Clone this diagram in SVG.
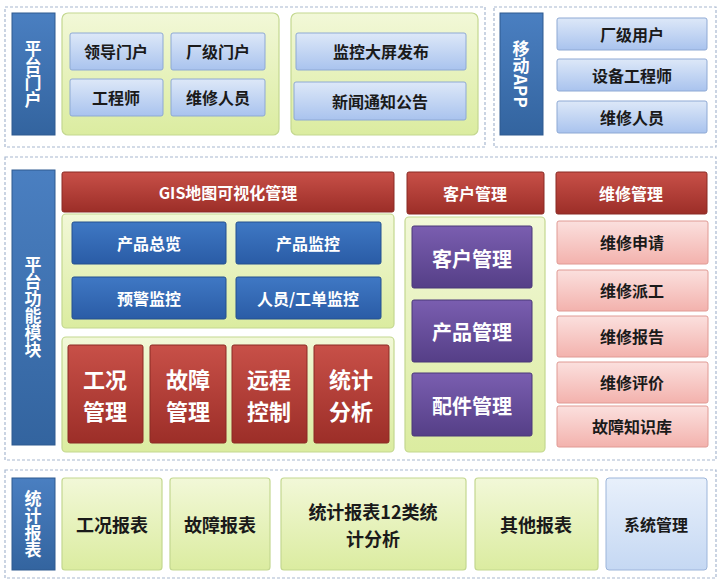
<svg xmlns="http://www.w3.org/2000/svg" width="723" height="584" viewBox="0 0 723 584">
<defs>
<linearGradient id="gb" x1="0" y1="0" x2="0" y2="1"><stop offset="0" stop-color="#dde8f8"/><stop offset="1" stop-color="#a9c3ee"/></linearGradient>
<linearGradient id="gg" x1="0" y1="0" x2="0" y2="1"><stop offset="0" stop-color="#f2f8d8"/><stop offset="1" stop-color="#dbeca0"/></linearGradient>
<linearGradient id="gbar" x1="0" y1="0" x2="0" y2="1"><stop offset="0" stop-color="#4a7fc1"/><stop offset="1" stop-color="#33649f"/></linearGradient>
<linearGradient id="gr" x1="0" y1="0" x2="0" y2="1"><stop offset="0" stop-color="#c85048"/><stop offset="1" stop-color="#9c2e28"/></linearGradient>
<linearGradient id="gp" x1="0" y1="0" x2="0" y2="1"><stop offset="0" stop-color="#7a5eb0"/><stop offset="1" stop-color="#553f87"/></linearGradient>
<linearGradient id="gk" x1="0" y1="0" x2="0" y2="1"><stop offset="0" stop-color="#fbe0de"/><stop offset="1" stop-color="#f3b2ad"/></linearGradient>
<linearGradient id="gdb" x1="0" y1="0" x2="0" y2="1"><stop offset="0" stop-color="#3f78c4"/><stop offset="1" stop-color="#2a5ca6"/></linearGradient>
<linearGradient id="gl" x1="0" y1="0" x2="0" y2="1"><stop offset="0" stop-color="#e8f0fb"/><stop offset="1" stop-color="#c5d8f3"/></linearGradient>
</defs>
<style>
.dash{fill:#fff;stroke:#a8b8d0;stroke-width:1.2;stroke-dasharray:3 2}
.bar{fill:url(#gbar);stroke:#2f5a90}
.grn{fill:url(#gg);stroke:#c4d890;stroke-width:1.2}
.bb{fill:url(#gb);stroke:#8ea9d4}
.red{fill:url(#gr);stroke:#8a2a24}
.pur{fill:url(#gp);stroke:#4a3878}
.pk{fill:url(#gk);stroke:#e09a94}
.db{fill:url(#gdb);stroke:#24508f}
.lb{fill:url(#gl);stroke:#9cb5da}
text{font-family:"Noto Sans CJK SC","Liberation Sans",sans-serif;font-weight:bold;text-anchor:middle;dominant-baseline:central}
.d{fill:#1a1a1a;font-size:16px}
.dl{fill:#1a1a1a;font-size:18px}
.w{fill:#fff;font-size:16px}
.wl{fill:#fff;font-size:20px}
.wx{fill:#fff;font-size:22px}
.bt{fill:#fff;font-size:17px}
</style>
<g id="top-left">
<rect class="dash" x="5" y="7" width="480" height="140"/>
<rect class="bar" x="12" y="13" width="43" height="122"/>
<text class="bt" x="33" y="74" writing-mode="tb">平台门户</text>
<rect class="grn" x="62" y="13" width="217" height="122" rx="6"/>
<rect class="bb" x="70" y="33" width="93" height="37" rx="2"/><text class="d" x="116" y="51">领导门户</text>
<rect class="bb" x="171" y="33" width="94" height="37" rx="2"/><text class="d" x="218" y="51">厂级门户</text>
<rect class="bb" x="70" y="79" width="93" height="37" rx="2"/><text class="d" x="116" y="97">工程师</text>
<rect class="bb" x="171" y="79" width="94" height="37" rx="2"/><text class="d" x="218" y="97">维修人员</text>
<rect class="grn" x="291" y="13" width="187" height="122" rx="6"/>
<rect class="bb" x="296" y="33" width="170" height="37" rx="2"/><text class="d" x="381" y="51">监控大屏发布</text>
<rect class="bb" x="294" y="82" width="172" height="38" rx="2"/><text class="d" x="380" y="101">新闻通知公告</text>
</g>
<g id="top-right">
<rect class="dash" x="494" y="7" width="222" height="140"/>
<rect class="bar" x="500" y="13" width="43" height="122"/>
<text class="bt" x="521" y="74" writing-mode="tb">移动APP</text>
<rect class="bb" x="557" y="18" width="150" height="32" rx="2"/><text class="d" x="632" y="34">厂级用户</text>
<rect class="bb" x="557" y="59" width="150" height="32" rx="2"/><text class="d" x="632" y="75">设备工程师</text>
<rect class="bb" x="557" y="101" width="150" height="32" rx="2"/><text class="d" x="632" y="117">维修人员</text>
</g>
<g id="middle">
<rect class="dash" x="5" y="157" width="711" height="303"/>
<rect class="bar" x="12" y="170" width="43" height="275"/>
<text class="bt" x="33" y="307" writing-mode="tb">平台功能模块</text>
<rect class="red" x="62" y="172" width="332" height="40" rx="2"/><text class="w" x="228" y="192">GIS地图可视化管理</text>
<rect class="grn" x="62" y="214" width="332" height="114" rx="4"/>
<rect class="db" x="72" y="222" width="154" height="42" rx="2"/><text class="w" x="149" y="243">产品总览</text>
<rect class="db" x="236" y="222" width="145" height="42" rx="2"/><text class="w" x="308" y="243">产品监控</text>
<rect class="db" x="72" y="277" width="154" height="42" rx="2"/><text class="w" x="149" y="298">预警监控</text>
<rect class="db" x="236" y="277" width="145" height="42" rx="2"/><text class="w" x="308" y="298">人员/工单监控</text>
<rect class="grn" x="62" y="337" width="332" height="115" rx="4"/>
<rect class="red" x="68" y="345" width="75" height="98" rx="2"/><text class="wx" x="105" y="378">工况</text><text class="wx" x="105" y="410">管理</text>
<rect class="red" x="150" y="345" width="76" height="98" rx="2"/><text class="wx" x="188" y="378">故障</text><text class="wx" x="188" y="410">管理</text>
<rect class="red" x="232" y="345" width="75" height="98" rx="2"/><text class="wx" x="269" y="378">远程</text><text class="wx" x="269" y="410">控制</text>
<rect class="red" x="314" y="345" width="75" height="98" rx="2"/><text class="wx" x="351" y="378">统计</text><text class="wx" x="351" y="410">分析</text>
<rect class="red" x="407" y="172" width="137" height="42" rx="2"/><text class="w" x="475" y="193">客户管理</text>
<rect class="grn" x="405" y="217" width="140" height="235" rx="4"/>
<rect class="pur" x="412" y="226" width="120" height="62" rx="2"/><text class="wl" x="472" y="258">客户管理</text>
<rect class="pur" x="412" y="300" width="120" height="62" rx="2"/><text class="wl" x="472" y="331">产品管理</text>
<rect class="pur" x="412" y="373" width="120" height="63" rx="2"/><text class="wl" x="472" y="405">配件管理</text>
<rect class="red" x="556" y="172" width="151" height="42" rx="2"/><text class="w" x="631" y="193">维修管理</text>
<rect class="pk" x="557" y="221" width="151" height="43" rx="2"/><text class="d" x="632" y="242">维修申请</text>
<rect class="pk" x="557" y="270" width="151" height="41" rx="2"/><text class="d" x="632" y="290">维修派工</text>
<rect class="pk" x="557" y="316" width="151" height="41" rx="2"/><text class="d" x="632" y="336">维修报告</text>
<rect class="pk" x="557" y="362" width="151" height="41" rx="2"/><text class="d" x="632" y="382">维修评价</text>
<rect class="pk" x="557" y="406" width="151" height="41" rx="2"/><text class="d" x="632" y="426">故障知识库</text>
</g>
<g id="bottom">
<rect class="dash" x="5" y="470" width="711" height="108"/>
<rect class="bar" x="12" y="478" width="43" height="92"/>
<text class="bt" x="33" y="524" writing-mode="tb">统计报表</text>
<rect class="grn" x="62" y="478" width="100" height="92" rx="3"/><text class="dl" x="112" y="524">工况报表</text>
<rect class="grn" x="170" y="478" width="100" height="92" rx="3"/><text class="dl" x="220" y="524">故障报表</text>
<rect class="grn" x="281" y="478" width="185" height="92" rx="3"/><text class="dl" x="373" y="511">统计报表12类统</text><text class="dl" x="373" y="538">计分析</text>
<rect class="grn" x="475" y="478" width="123" height="92" rx="3"/><text class="dl" x="536" y="524">其他报表</text>
<rect class="lb" x="606" y="478" width="101" height="92" rx="3"/><text class="d" x="656" y="524">系统管理</text>
</g>
<g id="connectors"/>
</svg>
